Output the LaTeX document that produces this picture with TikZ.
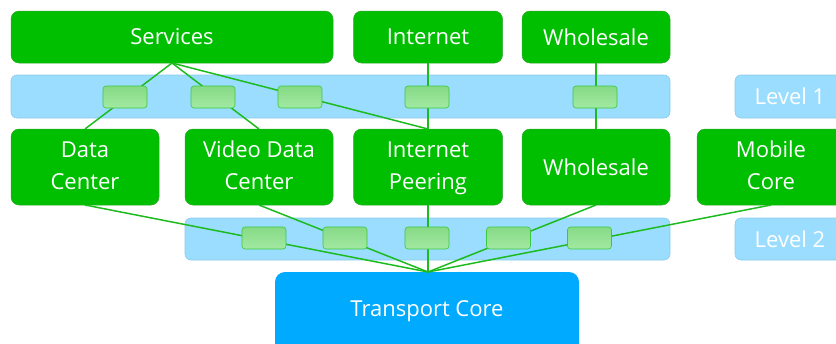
\documentclass[tikz,border=0pt]{standalone}
\usepackage{fontspec}
\setmainfont{Open Sans}
\begin{document}
\begin{tikzpicture}[x=1pt,y=-1pt,
  every node/.style={inner sep=0pt, outer sep=0pt},
  gbox/.style={rectangle, rounded corners=8pt, fill=boxgreen, draw=boxedge, line width=0.5pt,
    text=white, font=\fontsize{22}{32}\selectfont, align=center, minimum height=#1},
  gbox/.default=52pt,
  band/.style={rectangle, rounded corners=6pt, fill=bandblue, draw=bandedge, line width=0.6pt},
  lvl/.style={band, text=white, font=\fontsize{22}{26}\selectfont},
  port/.style={rectangle, rounded corners=3pt, minimum width=44pt, minimum height=22pt,
    top color=porttop, bottom color=portbot, draw=portedge, line width=0.6pt},
  link/.style={draw=linkgreen, line width=1.5pt}]
\definecolor{boxgreen}{HTML}{00BF00}
\definecolor{boxedge}{HTML}{2EA82E}
\definecolor{bandblue}{HTML}{9ADDFF}
\definecolor{bandedge}{HTML}{8CCBEA}
\definecolor{porttop}{HTML}{86DA86}
\definecolor{portbot}{HTML}{A2E9A2}
\definecolor{portedge}{HTML}{3CC83C}
\definecolor{linkgreen}{HTML}{1EBB1E}
\definecolor{coreblue}{HTML}{00AAFF}

\useasboundingbox (0,0) rectangle (836,343);
\clip (0,0) rectangle (836,343);

% level bands
\node[band, minimum width=659pt, minimum height=43pt] (band1) at (340.5,96.5) {};
\node[band, minimum width=485pt, minimum height=42pt] (band2) at (427.5,239) {};
\node[lvl, minimum width=110pt, minimum height=43pt] (lvl1) at (790,96.5) {Level 1};
\node[lvl, minimum width=110pt, minimum height=42pt] (lvl2) at (790,239) {Level 2};

% top row
\node[gbox, minimum width=322pt] (svc) at (172,37) {Services};
\node[gbox, minimum width=149pt] (inet) at (428,37) {Internet};
\node[gbox, minimum width=148pt] (whtop) at (596,37) {Wholesale};

% middle row
\node[gbox=76pt, minimum width=148pt] (dc) at (85,167) {Data\strut\\Center\strut};
\node[gbox=76pt, minimum width=148pt] (vdc) at (259,167) {Video Data\strut\\Center\strut};
\node[gbox=76pt, minimum width=149pt] (peer) at (428,167) {Internet\strut\\Peering\strut};
\node[gbox=76pt, minimum width=148pt] (whmid) at (596,167) {Wholesale};
\node[gbox=76pt, minimum width=148pt] (mob) at (771,167) {Mobile\strut\\Core\strut};

% transport core
\node[rectangle, rounded corners=10pt, fill=coreblue, minimum width=304pt, minimum height=90pt] (core) at (427,317) {};
\node[text=white, font=\fontsize{22}{26}\selectfont] (coretxt) at (427,311) {Transport Core};
\coordinate (coretop) at (428,272);

% links between levels
\draw[link] (svc.south) -- (dc.north);
\draw[link] (svc.south) -- (vdc.north);
\draw[link] (svc.south) -- (peer.north);
\draw[link] (inet.south) -- (peer.north);
\draw[link] (whtop.south) -- (whmid.north);
\draw[link] (dc.south) -- (coretop);
\draw[link] (vdc.south) -- (coretop);
\draw[link] (peer.south) -- (coretop);
\draw[link] (whmid.south) -- (coretop);
\draw[link] (mob.south) -- (coretop);

% ports on level 1
\node[port] (p11) at (125,97) {};
\node[port] (p12) at (213,97) {};
\node[port] (p13) at (300,97) {};
\node[port] (p14) at (427,97) {};
\node[port] (p15) at (595,97) {};

% ports on level 2
\node[port] (p21) at (264,238) {};
\node[port] (p22) at (345,238) {};
\node[port] (p23) at (427,238) {};
\node[port] (p24) at (508.5,238) {};
\node[port] (p25) at (589.5,238) {};
\end{tikzpicture}
\end{document}
